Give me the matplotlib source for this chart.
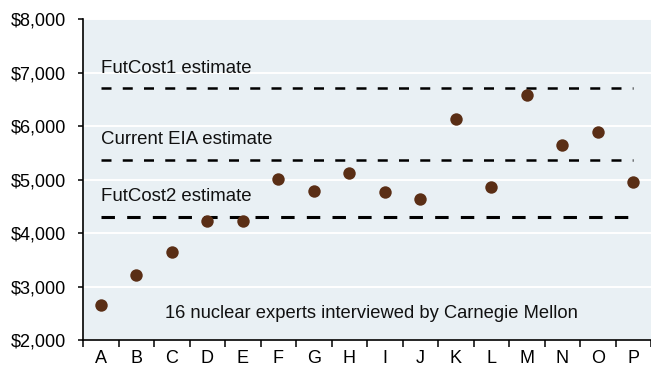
import matplotlib
matplotlib.use("Agg")
import matplotlib.pyplot as plt
from matplotlib.ticker import FuncFormatter, MultipleLocator

plt.rcParams['font.family'] = ['Liberation Sans', 'DejaVu Sans']

experts = list("ABCDEFGHIJKLMNOP")
cost_estimates = [2648, 3213, 3656, 4221, 4221, 5018, 4781, 5125,
                  4770, 4645, 6139, 4864, 6587, 5653, 5883, 4949]

ref_labels = ["FutCost1 estimate", "Current EIA estimate", "FutCost2 estimate"]
ref_values = [6710, 5370, 4300]
ref_widths = [1.8, 1.8, 2.2]
ref_dashes = [(4, 4.5), (4, 4.5), (4.4, 4.0)]

note = "16 nuclear experts interviewed by Carnegie Mellon"

fig = plt.figure(figsize=(6.51, 3.69), dpi=100)
ax = fig.add_axes([0.1275, 0.0785, 0.8725, 0.8692])
ax.set_facecolor("#E9F0F4")

x = list(range(len(experts)))
ax.set_xlim(-0.5, len(experts) - 0.5)
ax.set_ylim(2000, 8000)

ax.yaxis.set_major_locator(MultipleLocator(1000))
ax.yaxis.set_major_formatter(FuncFormatter(lambda v, p: f"${v:,.0f}"))
ax.grid(axis='y', color='white', linewidth=1.4)
ax.set_axisbelow(True)

for lab, val, lw, ds in zip(ref_labels, ref_values, ref_widths, ref_dashes):
    ax.plot([x[0], x[-1]], [val, val], color='black', linewidth=lw,
            dashes=ds, zorder=2)
    ax.annotate(lab, xy=(x[0], val), xytext=(0, 14.5), textcoords='offset points',
                ha='left', va='center', fontsize=13.4, color='#111111')

ax.scatter(x, cost_estimates, s=80, color='#5A2E15', zorder=3, linewidths=0)

ax.text(1.82, 2490, note, ha='left', va='center', fontsize=13.2, color='#111111')

ax.set_xticks(x)
ax.set_xticklabels(experts, fontsize=13)
ax.set_xticks([i - 0.5 for i in range(len(experts) + 1)], minor=True)
ax.tick_params(axis='x', which='major', length=0, pad=7)
ax.tick_params(axis='x', which='minor', length=5, width=1.1, direction='out')
ax.tick_params(axis='y', length=3.8, width=1.1, labelsize=13, pad=8.5)

for side in ('top', 'right'):
    ax.spines[side].set_visible(False)
for side in ('left', 'bottom'):
    ax.spines[side].set_linewidth(1.2)
    ax.spines[side].set_color('black')

fig.savefig("out.png", dpi=100, facecolor='white')
